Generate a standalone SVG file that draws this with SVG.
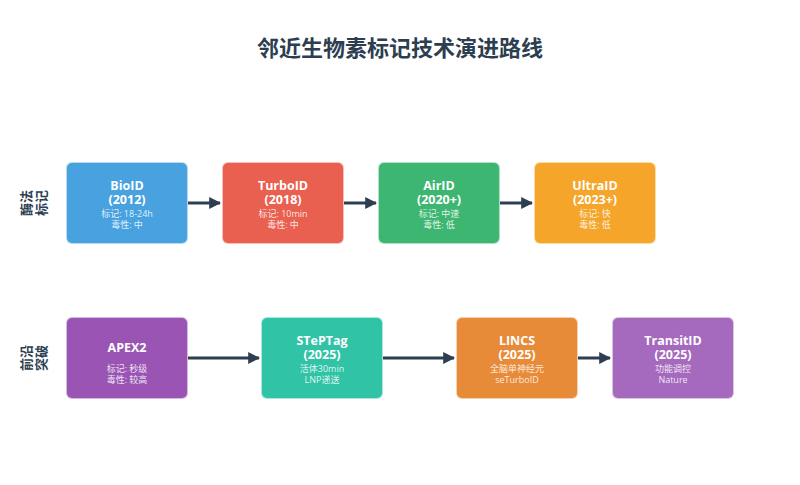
<svg xmlns="http://www.w3.org/2000/svg" width="800" height="485" viewBox="0 0 800 485">
<defs>
<marker id="ah" viewBox="0 0 10 10" refX="9" refY="5" markerWidth="4" markerHeight="4" orient="auto" markerUnits="strokeWidth">
<path d="M0,0 L10,5 L0,10 z" fill="#2c3e50"/>
</marker>
<style>
text{font-family:"Open Sans","Noto Sans CJK SC",sans-serif;text-anchor:middle}
.title{font-size:22px;font-weight:bold;fill:#2c3e50}
.side{font-size:13px;font-weight:bold;fill:#2c3e50}
.box{stroke:#ffffff;stroke-opacity:0.6;stroke-width:2}
.nt{font-size:12.5px;font-weight:bold;fill:#ffffff}
.ns{font-size:9px;fill:#ffffff;fill-opacity:0.85}
.conn line{stroke:#2c3e50;stroke-width:3;marker-end:url(#ah)}
</style>
</defs>
<rect width="800" height="485" fill="#ffffff"/>
<text class="title" x="400" y="56">邻近生物素标记技术演进路线</text>
<g id="side1" transform="translate(35,203) rotate(-90)">
<text class="side" x="0" y="-4">酶法</text>
<text class="side" x="0" y="11">标记</text>
</g>
<g id="side2" transform="translate(35,358) rotate(-90)">
<text class="side" x="0" y="-4">前沿</text>
<text class="side" x="0" y="11">突破</text>
</g>
<g id="BioID">
<rect class="box" x="66" y="162" width="122" height="82" rx="6" fill="#48a2df"/>
<text class="nt" x="127" y="190">BioID</text>
<text class="nt" x="127" y="204">(2012)</text>
<text class="ns" x="127" y="217">标记: 18-24h</text>
<text class="ns" x="127" y="228">毒性: 中</text>
</g>
<g id="TurboID">
<rect class="box" x="222" y="162" width="122" height="82" rx="6" fill="#e95f50"/>
<text class="nt" x="283" y="190">TurboID</text>
<text class="nt" x="283" y="204">(2018)</text>
<text class="ns" x="283" y="217">标记: 10min</text>
<text class="ns" x="283" y="228">毒性: 中</text>
</g>
<g id="AirID">
<rect class="box" x="378" y="162" width="122" height="82" rx="6" fill="#3db671"/>
<text class="nt" x="439" y="190">AirID</text>
<text class="nt" x="439" y="204">(2020+)</text>
<text class="ns" x="439" y="217">标记: 中速</text>
<text class="ns" x="439" y="228">毒性: 低</text>
</g>
<g id="UltraID">
<rect class="box" x="534" y="162" width="122" height="82" rx="6" fill="#f4a52a"/>
<text class="nt" x="595" y="190">UltraID</text>
<text class="nt" x="595" y="204">(2023+)</text>
<text class="ns" x="595" y="217">标记: 快</text>
<text class="ns" x="595" y="228">毒性: 低</text>
</g>
<g id="APEX2">
<rect class="box" x="66" y="317" width="122" height="82" rx="6" fill="#9a55b4"/>
<text class="nt" x="127" y="352">APEX2</text>
<text class="ns" x="127" y="372">标记: 秒级</text>
<text class="ns" x="127" y="383">毒性: 较高</text>
</g>
<g id="STePTag">
<rect class="box" x="261" y="317" width="122" height="82" rx="6" fill="#31c3a6"/>
<text class="nt" x="322" y="345">STePTag</text>
<text class="nt" x="322" y="359">(2025)</text>
<text class="ns" x="322" y="372">活体30min</text>
<text class="ns" x="322" y="383">LNP递送</text>
</g>
<g id="LINCS">
<rect class="box" x="456" y="317" width="122" height="82" rx="6" fill="#e88b38"/>
<text class="nt" x="517" y="345">LINCS</text>
<text class="nt" x="517" y="359">(2025)</text>
<text class="ns" x="517" y="372">全脑单神经元</text>
<text class="ns" x="517" y="383">seTurboID</text>
</g>
<g id="TransitID">
<rect class="box" x="612" y="317" width="122" height="82" rx="6" fill="#a569bd"/>
<text class="nt" x="673" y="345">TransitID</text>
<text class="nt" x="673" y="359">(2025)</text>
<text class="ns" x="673" y="372">功能调控</text>
<text class="ns" x="673" y="383">Nature</text>
</g>
<g id="connectors" class="conn">
<line x1="188" y1="203" x2="220" y2="203"/>
<line x1="344" y1="203" x2="376" y2="203"/>
<line x1="500" y1="203" x2="532" y2="203"/>
<line x1="188" y1="358" x2="259" y2="358"/>
<line x1="383" y1="358" x2="454" y2="358"/>
<line x1="578" y1="358" x2="610" y2="358"/>
</g>
</svg>
